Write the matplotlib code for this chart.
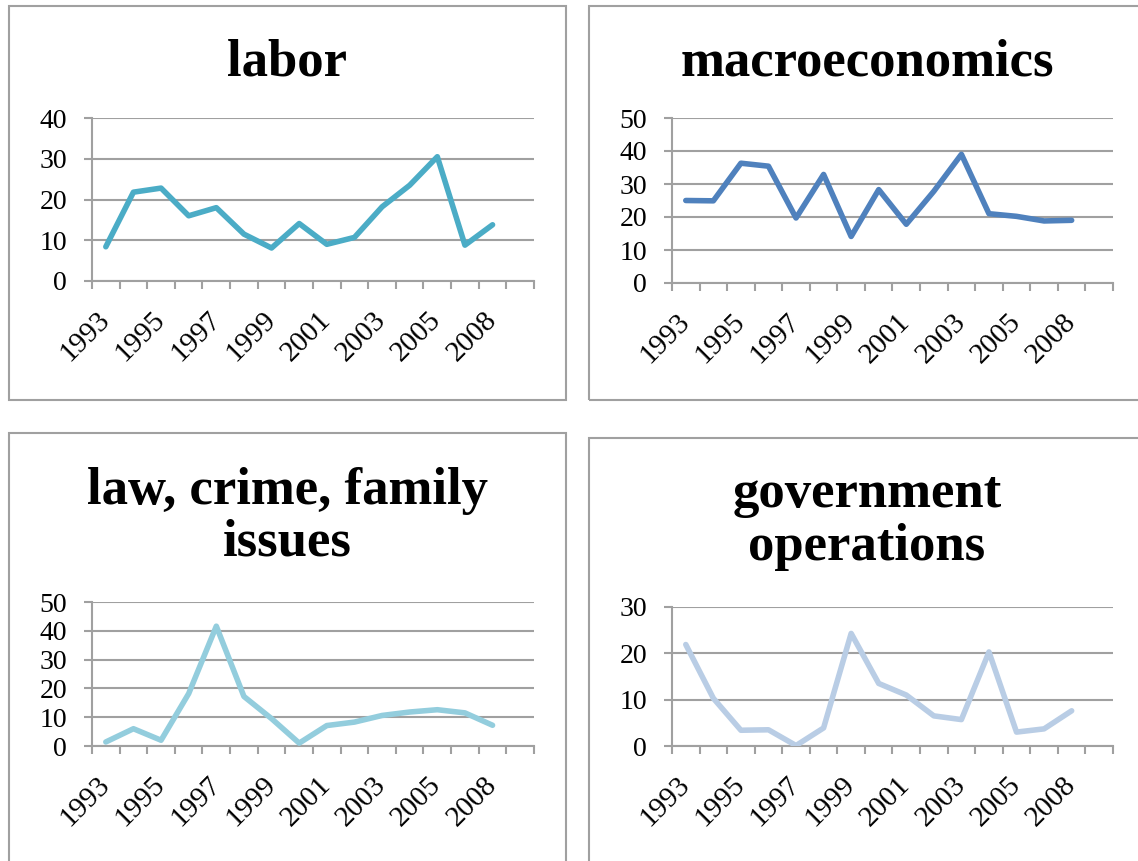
import matplotlib.pyplot as plt
import matplotlib.transforms as mtransforms
from matplotlib.patches import Rectangle
import numpy as np

W, H = 1138, 861

years = ["1993", "1994", "1995", "1996", "1997", "1998", "1999", "2000",
         "2001", "2002", "2003", "2004", "2005", "2007", "2008"]

labor = [8.4, 21.8, 22.8, 16.0, 18.0, 11.5, 8.1, 14.1, 9.0, 10.7, 18.2, 23.5, 30.5, 8.8, 13.8]
macro = [25.0, 24.9, 36.3, 35.4, 19.7, 32.9, 14.1, 28.3, 17.8, 27.8, 39.0, 21.0, 20.2, 18.8, 19.0]
law = [1.4, 6.0, 2.0, 18.2, 41.6, 17.2, 9.5, 1.0, 7.1, 8.3, 10.6, 11.8, 12.6, 11.5, 7.2]
gov = [21.9, 10.3, 3.4, 3.5, 0.1, 3.9, 24.3, 13.5, 11.0, 6.5, 5.7, 20.3, 3.0, 3.7, 7.6]

titles = [["labor"], ["macroeconomics"], ["law, crime, family", "issues"], ["government", "operations"]]
series = [labor, macro, law, gov]
ymaxes = [40, 50, 50, 30]
colors = ["#4BACC6", "#4F81BD", "#93CDDD", "#B9CDE5"]

# pixel layout: box (l, t, r, b), plot area (l, t, r, b), title baselines
boxes = [(9, 6, 566, 400), (589, 6, 1150, 400), (9, 433, 566, 880), (589, 438, 1150, 880)]
areas = [(92, 118, 534, 281), (672, 118, 1113, 283), (92, 602, 534, 746), (672, 607, 1113, 746)]
title_y = [[76], [76], [504, 555], [507, 560]]

plt.rcParams["font.family"] = ["Liberation Serif", "DejaVu Serif"]
grey = "#a0a0a0"

fig = plt.figure(figsize=(W / 100, H / 100), dpi=100)
shift = mtransforms.ScaledTranslation(4 / 100, -2 / 100, fig.dpi_scale_trans)

for i in range(4):
    bl, bt, br, bb = boxes[i]
    fig.add_artist(Rectangle((bl / W, 1 - bb / H), (br - bl) / W, (bb - bt) / H,
                             transform=fig.transFigure, fill=False, edgecolor=grey, lw=1.5))
    cx = (bl + min(br, 1145)) / 2
    for line, yb in zip(titles[i], title_y[i]):
        fig.text(cx / W, 1 - yb / H, line, ha="center", va="baseline",
                 fontsize=38, fontweight="bold")

    l, t, r, b = areas[i]
    ax = fig.add_axes([l / W, 1 - b / H, (r - l) / W, (b - t) / H])
    x = np.arange(len(years))
    ax.plot(x, series[i], color=colors[i], lw=4, solid_joinstyle="round",
            solid_capstyle="round", zorder=3)

    ax.set_xlim(-0.5, len(years) + 0.5)
    ax.set_ylim(0, ymaxes[i])
    ax.set_yticks(np.arange(0, ymaxes[i] + 1, 10))
    ax.yaxis.grid(True, color=grey, lw=1.5)
    ax.set_axisbelow(True)

    ax.set_xticks(x[::2])
    ax.set_xticklabels(years[::2], rotation=45, ha="right", va="center",
                       rotation_mode="anchor")
    for lab in ax.get_xticklabels():
        lab.set_transform(lab.get_transform() + shift)
    ax.set_xticks(np.arange(-0.5, len(years) + 1), minor=True)
    ax.tick_params(axis="x", which="major", length=0, pad=25, labelsize=21)
    ax.tick_params(axis="x", which="minor", length=6, width=1.5, color=grey)
    ax.tick_params(axis="y", length=6, width=1.5, color=grey, pad=12, labelsize=20)

    for s in ["top", "right"]:
        ax.spines[s].set_visible(False)
    for s in ["left", "bottom"]:
        ax.spines[s].set_color(grey)
        ax.spines[s].set_linewidth(1.5)

fig.savefig("out.png", dpi=100)
